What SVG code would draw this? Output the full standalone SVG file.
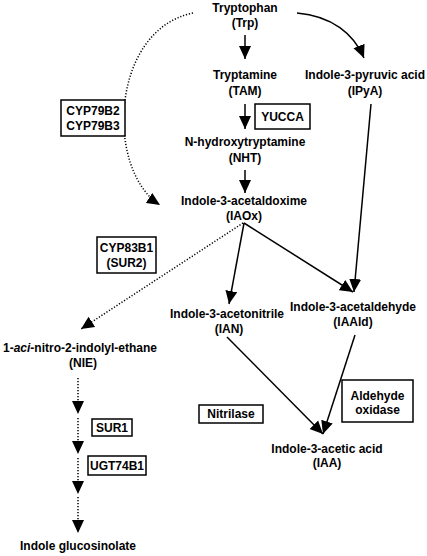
<svg xmlns="http://www.w3.org/2000/svg" width="427" height="556" viewBox="0 0 427 556">
<style>
text{font-family:"Liberation Sans",Arial,sans-serif;font-weight:bold;font-size:12px;fill:#000;text-anchor:middle}
.solid{fill:none;stroke:#000;stroke-width:1.5}
.dot{fill:none;stroke:#000;stroke-width:1.5;stroke-dasharray:1.2,1.8}
.box{fill:#fff;stroke:#000;stroke-width:1.5}
</style>
<defs>
<marker id="ah" markerUnits="userSpaceOnUse" markerWidth="14" markerHeight="14" viewBox="0 0 14 14" refX="13" refY="7" orient="auto">
<path d="M0,1 L13,7 L0,13 Z" fill="#000"/>
</marker>
</defs>
<rect width="427" height="556" fill="#fff"/>
<g id="connectors">
<line class="solid" x1="245" y1="35" x2="245" y2="59" marker-end="url(#ah)"/>
<line class="solid" x1="245" y1="104" x2="245" y2="129" marker-end="url(#ah)"/>
<line class="solid" x1="245" y1="170" x2="245" y2="193" marker-end="url(#ah)"/>
<path class="solid" d="M297,13 C332,16 354,34 364,58" marker-end="url(#ah)"/>
<path class="dot" d="M193,13 C110,30 105,170 160,205" marker-end="url(#ah)"/>
<line class="solid" x1="371" y1="104" x2="354" y2="292" marker-end="url(#ah)"/>
<line class="solid" x1="244" y1="223" x2="229" y2="304" marker-end="url(#ah)"/>
<line class="solid" x1="244" y1="223" x2="353" y2="292" marker-end="url(#ah)"/>
<line class="dot" x1="243" y1="223" x2="81" y2="329" marker-end="url(#ah)"/>
<line class="solid" x1="227" y1="337" x2="323" y2="434" marker-end="url(#ah)"/>
<line class="solid" x1="355" y1="335" x2="323" y2="434" marker-end="url(#ah)"/>
<line class="dot" x1="78" y1="378" x2="78" y2="414" marker-end="url(#ah)"/>
<line class="dot" x1="78" y1="418" x2="78" y2="454" marker-end="url(#ah)"/>
<line class="dot" x1="78" y1="458" x2="78" y2="494" marker-end="url(#ah)"/>
<line class="dot" x1="78" y1="497" x2="78" y2="533" marker-end="url(#ah)"/>
</g>
<g id="trp"><text x="245" y="12">Tryptophan</text><text x="245" y="27">(Trp)</text></g>
<g id="tam"><text x="245" y="79">Tryptamine</text><text x="245" y="95">(TAM)</text></g>
<g id="ipya"><text x="365" y="79">Indole-3-pyruvic acid</text><text x="365" y="95">(IPyA)</text></g>
<g id="yucca"><rect class="box" x="255" y="104" width="55" height="25"/><text x="282.5" y="121">YUCCA</text></g>
<g id="nht"><text x="245" y="146">N-hydroxytryptamine</text><text x="245" y="162">(NHT)</text></g>
<g id="cyp79"><rect class="box" x="61" y="100" width="64" height="36"/><text x="93" y="115">CYP79B2</text><text x="93" y="130">CYP79B3</text></g>
<g id="iaox"><text x="244" y="205">Indole-3-acetaldoxime</text><text x="244" y="220">(IAOx)</text></g>
<g id="cyp83"><rect class="box" x="97" y="237" width="59" height="36"/><text x="126.5" y="252">CYP83B1</text><text x="126.5" y="267">(SUR2)</text></g>
<g id="ian"><text x="227" y="318">Indole-3-acetonitrile</text><text x="229" y="333">(IAN)</text></g>
<g id="iaald"><text x="353" y="311">Indole-3-acetaldehyde</text><text x="353" y="326">(IAAld)</text></g>
<g id="nie"><text x="80" y="352">1-<tspan font-style="italic">aci</tspan>-nitro-2-indolyl-ethane</text><text x="83" y="367">(NIE)</text></g>
<g id="aldox"><rect class="box" x="342" y="380" width="71" height="42"/><text x="377.5" y="400">Aldehyde</text><text x="377.5" y="414">oxidase</text></g>
<g id="nitrilase"><rect class="box" x="199" y="405" width="64" height="18"/><text x="231" y="418">Nitrilase</text></g>
<g id="sur1"><rect class="box" x="92" y="419" width="40" height="17"/><text x="112" y="432">SUR1</text></g>
<g id="ugt"><rect class="box" x="88" y="456" width="58" height="19"/><text x="117" y="470">UGT74B1</text></g>
<g id="iaa"><text x="327" y="453">Indole-3-acetic acid</text><text x="327" y="467">(IAA)</text></g>
<g id="glucosinolate"><text x="20" y="550" style="text-anchor:start">Indole glucosinolate</text></g>
</svg>
